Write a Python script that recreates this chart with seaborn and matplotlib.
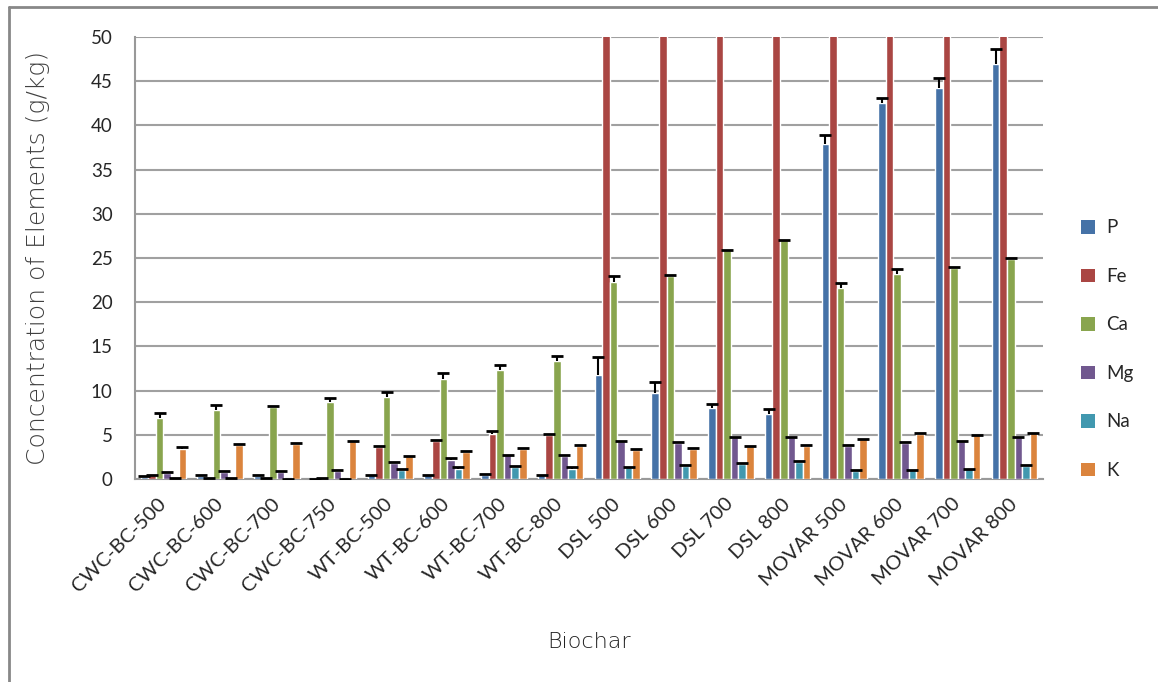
import numpy as np
import pandas as pd
import seaborn as sns
import matplotlib.pyplot as plt
from matplotlib.patches import Patch
from matplotlib.lines import Line2D

# Biochar samples (x categories)
biochar = ["CWC-BC-500", "CWC-BC-600", "CWC-BC-700", "CWC-BC-750",
           "WT-BC-500", "WT-BC-600", "WT-BC-700", "WT-BC-800",
           "DSL 500", "DSL 600", "DSL 700", "DSL 800",
           "MOVAR 500", "MOVAR 600", "MOVAR 700", "MOVAR 800"]

elements = ["P", "Fe", "Ca", "Mg", "Na", "K"]

# Concentrations (g/kg)
P = [0.25, 0.3, 0.3, 0.05, 0.4, 0.4, 0.5, 0.45, 11.8, 9.7, 8.0, 7.3, 37.9, 42.5, 44.2, 46.9]
# Fe for DSL / MOVAR runs off the top of the axis (> 50)
Fe = [0.4, 0.1, 0.1, 0.1, 3.6, 4.25, 5.05, 4.95, 60, 60, 60, 60, 60, 60, 60, 60]
Ca = [6.9, 7.8, 8.1, 8.7, 9.3, 11.3, 12.3, 13.3, 22.3, 23.0, 25.9, 27.0, 21.6, 23.2, 23.9, 24.9]
Mg = [0.7, 0.8, 0.8, 0.95, 1.8, 2.1, 2.7, 2.65, 4.25, 4.1, 4.7, 4.75, 3.75, 4.1, 4.3, 4.7]
Na = [0.05, 0.05, 0.02, 0.02, 1.0, 1.1, 1.35, 1.15, 1.3, 1.5, 1.75, 1.95, 0.95, 1.0, 1.1, 1.5]
K = [3.4, 3.8, 4.0, 4.25, 2.55, 3.1, 3.4, 3.7, 3.3, 3.4, 3.7, 3.75, 4.5, 5.1, 4.95, 5.15]

# upper error bars
P_err = [0.1, 0.1, 0.1, 0.0, 0.1, 0.1, 0.1, 0.05, 2.05, 1.3, 0.5, 0.65, 1.0, 0.6, 1.15, 1.7]
Fe_err = [0.1, 0.05, 0.05, 0.05, 0.1, 0.2, 0.4, 0.1, 0, 0, 0, 0, 0, 0, 0, 0]
Ca_err = [0.6, 0.6, 0.1, 0.5, 0.5, 0.65, 0.6, 0.6, 0.65, 0.05, 0.05, 0.05, 0.6, 0.6, 0.05, 0.05]
Mg_err = [0.1, 0.1, 0.1, 0.05, 0.1, 0.25, 0.05, 0.1, 0.05, 0.05, 0.1, 0.05, 0.05, 0.05, 0.05, 0.05]
Na_err = [0.02, 0.02, 0.02, 0.02, 0.1, 0.2, 0.15, 0.15, 0.1, 0.05, 0.05, 0.05, 0.05, 0.05, 0.05, 0.1]
K_err = [0.2, 0.2, 0.05, 0.05, 0.1, 0.1, 0.05, 0.1, 0.05, 0.05, 0.05, 0.05, 0.05, 0.05, 0.05, 0.05]

colors = ["#4572A7", "#AA4643", "#89A54E", "#71588F", "#4198AF", "#DB843D"]

values = {"P": P, "Fe": Fe, "Ca": Ca, "Mg": Mg, "Na": Na, "K": K}
errors = {"P": P_err, "Fe": Fe_err, "Ca": Ca_err, "Mg": Mg_err, "Na": Na_err, "K": K_err}

# long form table for seaborn
rows = []
for el in elements:
    for b, v in zip(biochar, values[el]):
        rows.append({"Biochar": b, "Element": el, "Conc": v})
df = pd.DataFrame(rows)

sns.set_style("white")
plt.rcParams["font.family"] = ["Lato", "DejaVu Sans"]

fig = plt.figure(figsize=(11.58, 6.82), dpi=100)
ax = fig.add_axes([0.1166, 0.2977, 0.784, 0.648])

sns.barplot(data=df, x="Biochar", y="Conc", hue="Element", hue_order=elements,
            order=biochar, palette=colors, width=0.8, saturation=1,
            errorbar=None, ax=ax, legend=False, zorder=3)

# Excel style "plus" error bars (only the upper cap is kept)
for el, cont in zip(elements, ax.containers):
    xs = [p.get_x() + p.get_width() / 2 for p in cont.patches]
    hs = [p.get_height() for p in cont.patches]
    eb = ax.errorbar(xs, hs, yerr=[np.zeros(len(hs)), errors[el]], fmt="none",
                     ecolor="black", elinewidth=1.5, capsize=4.3, capthick=2, zorder=4)
    eb[1][0].set_visible(False)

ax.set_ylim(0, 50)
ax.set_xlim(-0.5, len(biochar) - 0.5)
ax.set_yticks(np.arange(0, 51, 5))
ax.set_xticks(np.arange(len(biochar) + 1) - 0.5, minor=True)
ax.set_xticks(np.arange(len(biochar)))
ax.set_xticklabels(biochar, rotation=45, ha="right", va="center",
                   rotation_mode="anchor", fontsize=14.5)
ax.tick_params(axis="x", which="major", length=0, pad=16)
ax.tick_params(axis="x", which="minor", length=7, width=1.5, color="#999999")
ax.tick_params(axis="y", length=8, width=1.5, color="#999999", labelsize=13.5, pad=8)

ax.yaxis.grid(True, color="#A0A0A0", linewidth=1.5, zorder=0)
ax.set_axisbelow(True)
for s in ["top", "right"]:
    ax.spines[s].set_visible(False)
for s in ["left", "bottom"]:
    ax.spines[s].set_color("#999999")
    ax.spines[s].set_linewidth(1.5)

ax.set_ylabel("Concentration of Elements (g/kg)", fontsize=18, color="#404040",
              family="DejaVu Sans", fontweight="light")
ax.yaxis.set_label_coords(-0.094, 0.50)
ax.set_xlabel("Biochar", fontsize=16, color="#222222", family="DejaVu Sans",
              fontweight="light")
ax.xaxis.set_label_coords(0.5, -0.347)

handles = [Patch(facecolor=c, edgecolor="none") for c in colors]
fig.legend(handles, elements, loc="center left", bbox_to_anchor=(0.919, 0.488),
           frameon=False, fontsize=13.5, handlelength=0.75, handleheight=0.75,
           handletextpad=0.6, labelspacing=1.68)

# chart area border
fig.add_artist(Line2D([0.0075, 0.0075], [0.0, 0.9897], color="#888888", lw=2))
fig.add_artist(Line2D([0.0075, 1.0], [0.9897, 0.9897], color="#888888", lw=2))

fig.savefig("out.png", dpi=100)
